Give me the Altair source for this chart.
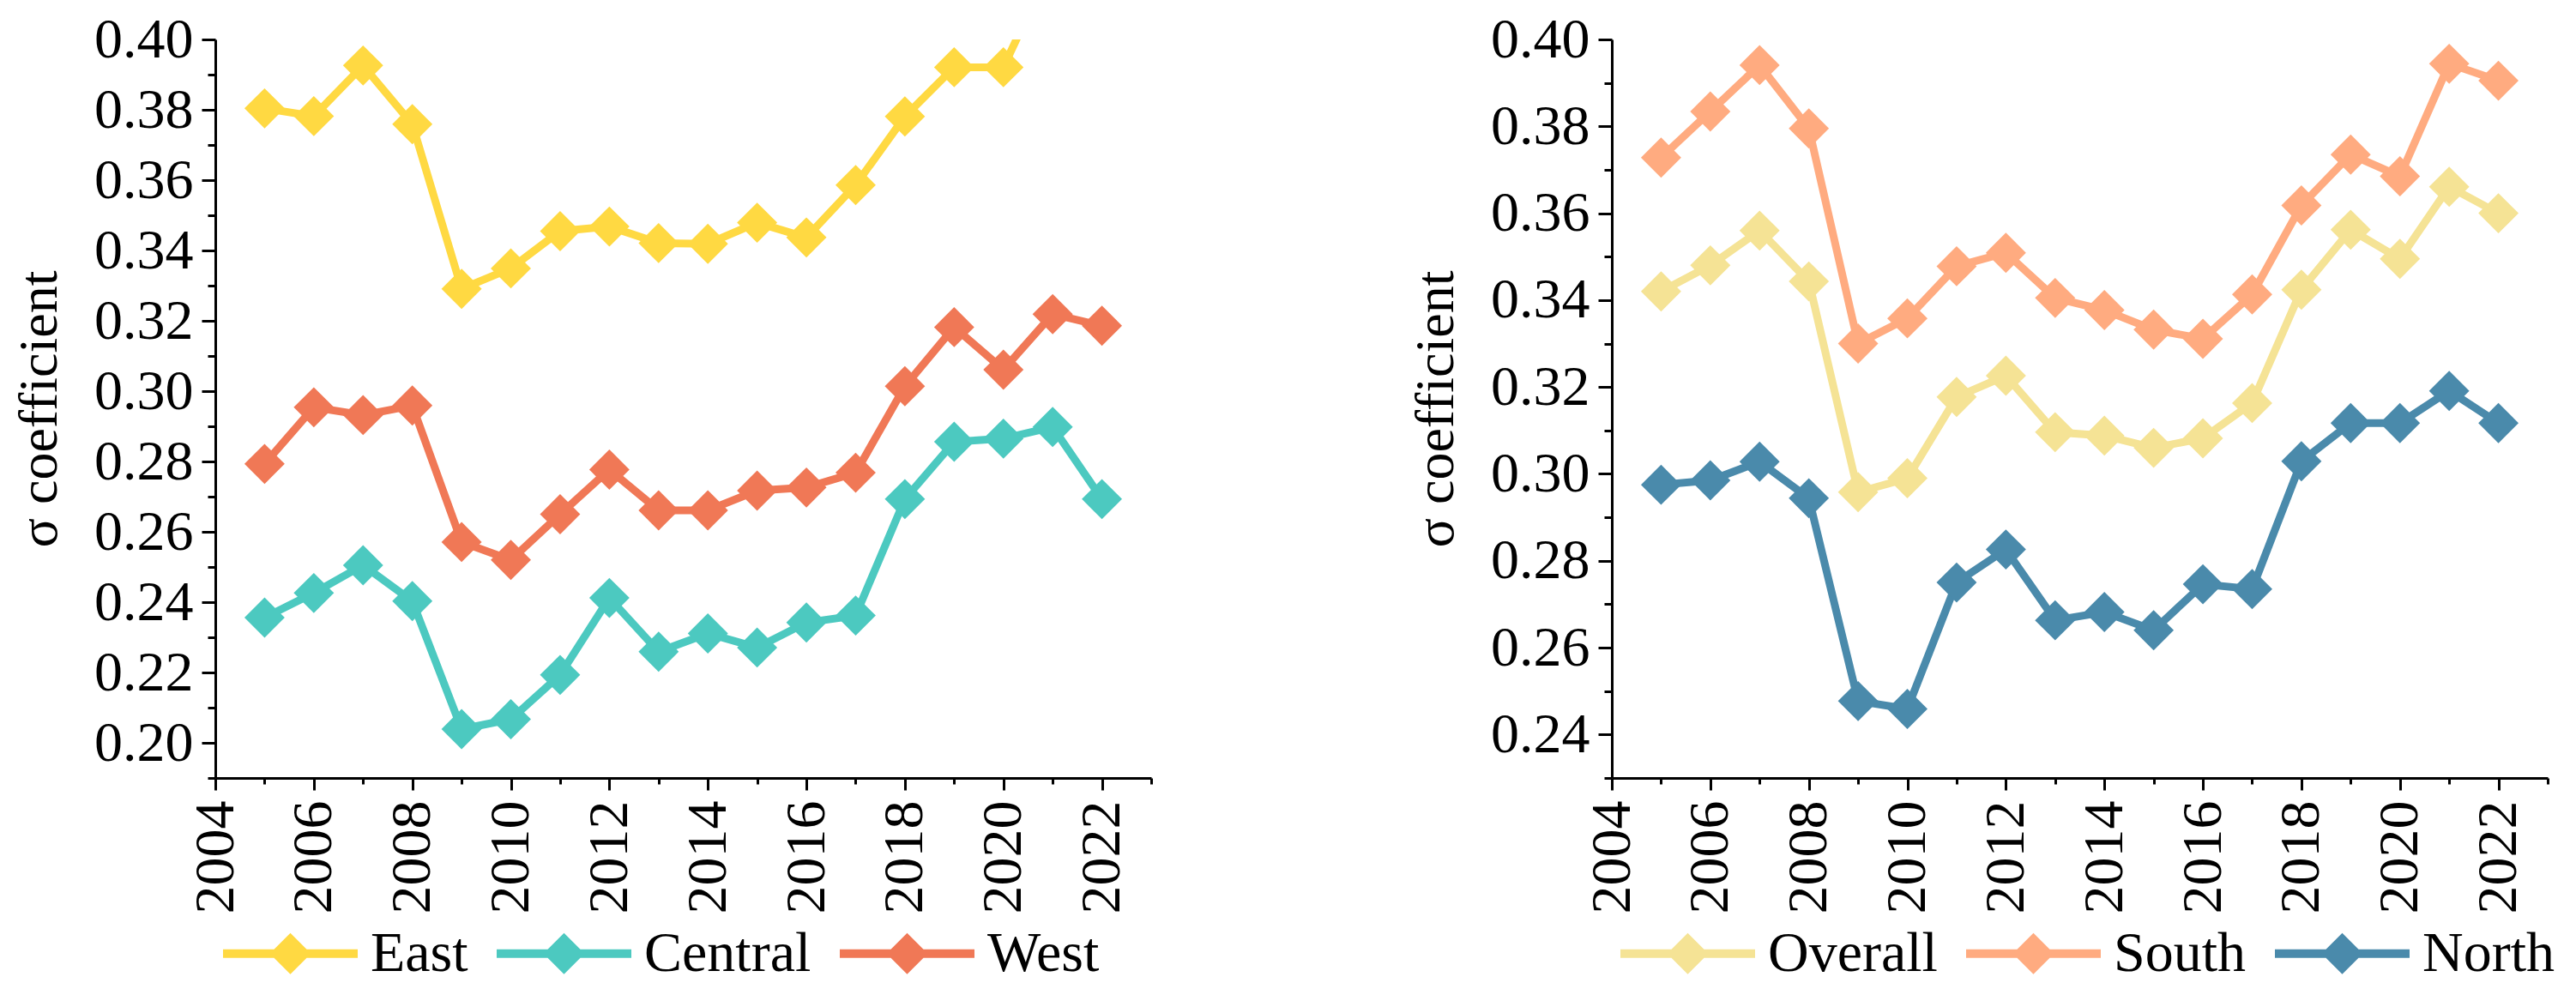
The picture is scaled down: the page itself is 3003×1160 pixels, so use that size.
import altair as alt
import pandas as pd

years = list(range(2005, 2023))

# Left panel (regional)
east = [0.3804, 0.3782, 0.3926, 0.3759, 0.3291, 0.3349, 0.3455, 0.3468, 0.3421,
        0.3419, 0.3479, 0.3437, 0.3586, 0.3781, 0.3921, 0.3921, 0.4220, 0.4150]
central = [0.2356, 0.2426, 0.2505, 0.2403, 0.2039, 0.2067, 0.2193, 0.2412, 0.2259,
           0.2311, 0.2271, 0.2342, 0.2362, 0.2693, 0.2856, 0.2865, 0.2898, 0.2693]
west = [0.2793, 0.2954, 0.2932, 0.2959, 0.2571, 0.2520, 0.2650, 0.2777, 0.2661,
        0.2661, 0.2717, 0.2726, 0.2768, 0.3014, 0.3182, 0.3061, 0.3219, 0.3186]

# Right panel (overall / south / north)
overall = [0.3420, 0.3480, 0.3560, 0.3443, 0.2958, 0.2990, 0.3177, 0.3226, 0.3096,
           0.3088, 0.3060, 0.3082, 0.3163, 0.3424, 0.3562, 0.3495, 0.3661, 0.3600]
south = [0.3728, 0.3834, 0.3941, 0.3795, 0.3300, 0.3358, 0.3478, 0.3509, 0.3405,
         0.3377, 0.3332, 0.3311, 0.3413, 0.3618, 0.3735, 0.3685, 0.3944, 0.3905]
north = [0.2975, 0.2985, 0.3028, 0.2944, 0.2477, 0.2459, 0.2750, 0.2826, 0.2663,
         0.2682, 0.2640, 0.2746, 0.2735, 0.3029, 0.3117, 0.3117, 0.3191, 0.3117]

left_names = ["East", "Central", "West"]
left_colors = ["#FFD942", "#4CC9C0", "#F07856"]
right_names = ["Overall", "South", "North"]
right_colors = ["#F5E395", "#FFAB80", "#4A8AAB"]

x_tick_values = list(range(2004, 2024))
FONT = "Liberation Serif"
# legend symbol: a thick line with a diamond in the middle
SYMBOL = "M-1,-0.064L1,-0.064L1,0.064L-1,0.064Z M0,-0.306L0.306,0L0,0.306L-0.306,0Z"


def to_long(names, series):
    rows = []
    for n, vals in zip(names, series):
        for yr, v in zip(years, vals):
            rows.append({"year": yr, "series": n, "value": v})
    return pd.DataFrame(rows)


def make_legend(legend_x):
    return alt.Legend(
        orient="none", legendX=legend_x, legendY=987, direction="horizontal", title=None,
        symbolType=SYMBOL, symbolSize=24649, symbolStrokeWidth=0,
        labelOffset=15, columnPadding=33, labelLimit=600, gridAlign="each",
        labelFont=FONT, labelFontSize=66, labelColor="black",
    )


def panel(df, names, colors, ymin, legend_x):
    nsteps = int(round((0.40 - ymin) / 0.01))
    y_tick_values = [round(ymin + 0.01 * i, 2) for i in range(nsteps + 1)]
    x = alt.X(
        "year:Q",
        title=None,
        scale=alt.Scale(domain=[2004, 2023], nice=False, zero=False),
        axis=alt.Axis(
            values=x_tick_values,
            format="d",
            labelExpr="datum.value % 2 === 0 ? datum.label : ''",
            labelAngle=270,
            labelPadding=12,
            tickSize={"condition": {"test": "datum.value % 2 === 0", "value": 14}, "value": 7},
        ),
    )
    y = alt.Y(
        "value:Q",
        title="σ coefficient",
        scale=alt.Scale(domain=[ymin, 0.40], nice=False, zero=False),
        axis=alt.Axis(
            values=y_tick_values,
            labelExpr="round(datum.value * 100) % 2 === 0 ? format(datum.value, '.2f') : ''",
            labelPadding=10,
            titlePadding=31,
            tickSize={"condition": {"test": "round(datum.value * 100) % 2 === 0", "value": 16}, "value": 9},
        ),
    )
    legend = make_legend(legend_x)
    color = alt.Color("series:N", scale=alt.Scale(domain=names, range=colors), legend=legend)
    base = alt.Chart(df)
    line = base.mark_line(strokeWidth=9, clip=True).encode(x=x, y=y, color=color)
    pts = base.mark_point(shape="diamond", filled=True, size=2200, opacity=1, clip=True).encode(
        x=x, y=y, color=color
    )
    return alt.layer(line, pts).properties(width=1091, height=861)


left = panel(to_long(left_names, [east, central, west]), left_names, left_colors, 0.19, 9)
right = panel(to_long(right_names, [overall, south, north]), right_names, right_colors, 0.23, 10)

chart = (
    alt.hconcat(left, right, spacing=298)
    .resolve_scale(color="independent")
    .properties(padding={"left": 6, "top": 5, "right": 5, "bottom": 5})
    .configure_view(stroke=None)
    .configure_axis(
        grid=False,
        labelFont=FONT, labelFontSize=66, labelColor="black",
        titleFont=FONT, titleFontSize=64, titleFontWeight="normal", titleColor="black",
        domainColor="black", domainWidth=3, tickColor="black", tickWidth=3,
    )
)

chart.save("out.html", embed_options={"renderer": "svg", "actions": False})
